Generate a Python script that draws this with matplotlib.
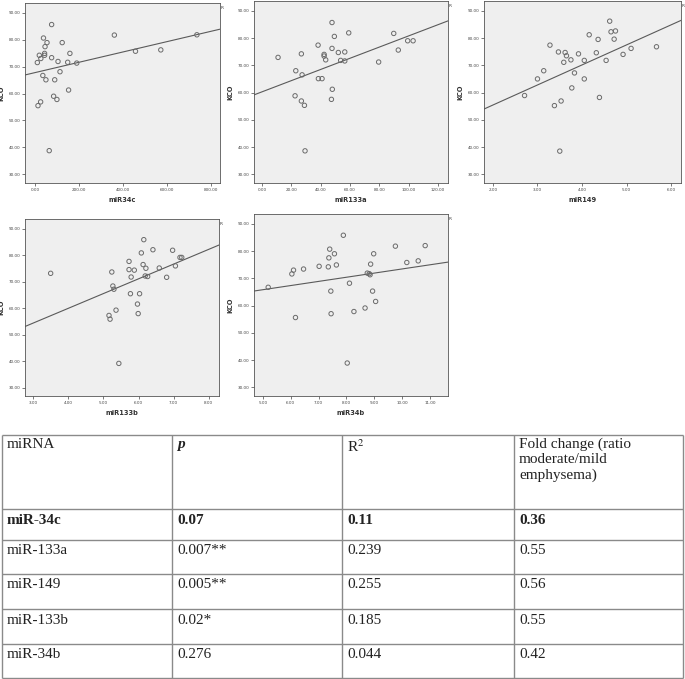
import numpy as np
import matplotlib
matplotlib.use("Agg")
import matplotlib.pyplot as plt
from matplotlib.ticker import FormatStrFormatter

# ---- scatter data (KCO vs miRNA expression) ----
kco_34c = [85.6, 80.6, 78.9, 77.4, 74.2, 74.9, 74.2, 73.0, 71.5, 73.3, 71.9, 78.9, 74.9, 71.6, 71.3,
           68.1, 66.7, 65.1, 65.1, 61.3, 59.0, 57.8, 56.9, 55.5, 38.8, 81.7, 75.7, 76.2, 81.8]
mir34c = [76, 39, 55, 46, 20, 44, 44, 27, 11, 76, 105, 124, 159, 149, 190,
          114, 36, 50, 90, 153, 85, 100, 26, 14, 65, 361, 457, 572, 736]

mir133a = [10.9, 23.0, 26.8, 27.3, 22.5, 26.8, 28.9, 29.3, 38.2, 42.3, 42.3, 43.4, 38.4, 40.9, 47.7,
           49.3, 47.7, 52.0, 56.4, 53.6, 56.4, 59.1, 47.9, 47.3, 79.5, 89.8, 92.9, 99.3, 103.0]
kco_133a = [72.9, 68.0, 74.2, 66.5, 58.8, 56.9, 55.3, 38.6, 77.4, 74.0, 73.4, 72.0, 65.1, 65.1, 85.7,
            80.6, 76.2, 74.7, 74.9, 71.8, 71.6, 81.9, 61.2, 57.5, 71.2, 81.7, 75.6, 79.0, 79.0]

mir149 = [2.71, 3.00, 3.14, 3.28, 3.38, 3.47, 3.53, 3.50, 3.59, 3.62, 3.65, 3.75, 3.83, 3.77, 3.92,
          4.05, 4.05, 4.16, 4.32, 4.36, 4.39, 4.54, 4.62, 4.65, 4.75, 4.72, 4.92, 5.10, 5.67]
kco_149 = [58.9, 65.0, 68.0, 77.4, 55.2, 74.9, 56.9, 38.5, 71.1, 74.7, 73.5, 72.0, 67.2, 61.7, 74.2,
           71.8, 65.0, 81.2, 74.6, 79.5, 58.2, 71.8, 86.2, 82.3, 82.6, 79.6, 74.0, 76.2, 76.8]

mir133b = [3.50, 5.24, 5.27, 5.30, 5.16, 5.19, 5.36, 5.44, 5.73, 5.73, 5.88, 5.79, 5.77, 6.03, 5.97,
           5.99, 6.08, 6.15, 6.13, 6.21, 6.19, 6.26, 6.41, 6.59, 6.80, 6.97, 7.05, 7.18, 7.23]
kco_133b = [73.1, 73.6, 68.3, 67.1, 57.2, 55.8, 59.2, 39.1, 77.6, 74.5, 74.3, 71.7, 65.4, 65.4, 61.5,
            57.9, 80.8, 85.8, 76.4, 75.0, 72.1, 71.9, 82.0, 75.1, 71.6, 81.8, 75.9, 79.1, 79.1]

mir34b = [5.19, 6.04, 6.10, 6.17, 6.46, 7.02, 7.35, 7.37, 7.40, 7.57, 7.64, 7.44, 7.45, 7.89, 8.03,
          8.11, 8.27, 8.67, 8.75, 8.82, 8.85, 8.87, 8.94, 8.98, 9.05, 9.76, 10.17, 10.58, 10.83]
kco_34b = [66.7, 71.6, 73.0, 55.6, 73.4, 74.4, 74.2, 77.5, 80.7, 79.0, 74.9, 65.3, 57.0, 85.8, 38.9,
           68.2, 57.8, 59.1, 71.9, 71.7, 71.3, 75.2, 65.3, 79.0, 61.5, 81.8, 75.8, 76.4, 82.0]

# fit lines (intercept, slope)
fit_34c = (67.76, 0.01917)
fit_133a = (60.27, 0.2053)
fit_149 = (40.7, 7.36)
fit_133b = (37.6, 5.57)
fit_34b = (58.2, 1.523)

# ---- table data ----
col_headers = ["miRNA", "p", "R$^2$", "Fold change (ratio\nmoderate/mild\nemphysema)"]
mirna_names = ["miR-34c", "miR-133a", "miR-149", "miR-133b", "miR-34b"]
p_values = ["0.07", "0.007**", "0.005**", "0.02*", "0.276"]
r2_values = ["0.11", "0.239", "0.255", "0.185", "0.044"]
fold_changes = ["0.36", "0.55", "0.56", "0.55", "0.42"]

W, H = 685, 679
fig = plt.figure(figsize=(W / 100, H / 100), dpi=100)
plt.rcParams['mathtext.fontset'] = 'stix'


def px_axes(x0, y0, x1, y1):
    return fig.add_axes([x0 / W, 1 - y1 / H, (x1 - x0) / W, (y1 - y0) / H])


def scatter_panel(rect, x, y, fit, xlim, xticks, xlabel):
    ax = px_axes(*rect)
    ax.set_facecolor('#efefef')
    ax.scatter(x, y, s=10, facecolors='none', edgecolors='#6a6a6a', linewidths=0.7, zorder=3)
    xs = np.array(xlim)
    ax.plot(xs, fit[0] + fit[1] * xs, color='#5a5a5a', lw=0.8, zorder=2)
    ax.set_xlim(xlim)
    ax.set_ylim(26.8, 93.6)
    ax.set_xticks(xticks)
    ax.set_yticks(range(30, 91, 10))
    ax.xaxis.set_major_formatter(FormatStrFormatter('%.2f'))
    ax.yaxis.set_major_formatter(FormatStrFormatter('%.2f'))
    ax.tick_params(labelsize=3.0, length=2, width=0.5, pad=1.5, colors='#444444')
    for s in ax.spines.values():
        s.set_color('#555555')
        s.set_linewidth(0.6)
    ax.set_xlabel(xlabel, fontsize=4.8, fontweight='bold', labelpad=4, color='#333333')
    ax.set_ylabel('KCO', fontsize=4.8, fontweight='bold', color='#333333')
    # keep the y label a fixed 20 px left of the axes
    width_px = rect[2] - rect[0]
    ax.yaxis.set_label_coords(-20.5 / width_px, 0.5)
    # clipped legend remnant at the top-right corner
    ax.text(1.005, 0.985, 'R', transform=ax.transAxes, fontsize=3.2,
            color='#444444', ha='left', va='top', clip_on=False)
    return ax


scatter_panel((25, 3, 220, 183), mir34c, kco_34c, fit_34c, (-45, 841),
              [0, 200, 400, 600, 800], 'miR34c')
scatter_panel((254, 1, 448, 183), mir133a, kco_133a, fit_133a, (-5.5, 126.8),
              [0, 20, 40, 60, 80, 100, 120], 'miR133a')
scatter_panel((484, 1, 681, 183), mir149, kco_149, fit_149, (1.8, 6.22),
              [2, 3, 4, 5, 6], 'miR149')
scatter_panel((25, 219, 219, 396), mir133b, kco_133b, fit_133b, (2.77, 8.29),
              [3, 4, 5, 6, 7, 8], 'miR133b')
scatter_panel((254, 214, 448, 396), mir34b, kco_34b, fit_34b, (4.68, 11.65),
              [5, 6, 7, 8, 9, 10, 11], 'miR34b')

# ---- table drawn in pixel coordinates ----
tab = fig.add_axes([0, 0, 1, 1], zorder=-1)
tab.set_xlim(0, W)
tab.set_ylim(H, 0)
tab.axis('off')

col_x = [2, 172, 342, 514, 683]
row_y = [435, 509, 540, 574, 609, 644, 678]
tab.hlines(row_y, col_x[0], col_x[-1], color='#8a8a8a', lw=1)
tab.vlines(col_x, row_y[0], row_y[-1], color='#8a8a8a', lw=1)

serif = 'Liberation Serif'
fs = 11
for j, head in enumerate(col_headers):
    kw = dict(fontsize=fs, family=serif, va='top', ha='left', color='#222222', linespacing=1.2)
    if j == 1:
        kw.update(fontweight='bold', fontstyle='italic')
    tab.text(col_x[j] + 5, row_y[0] + 3, head, **kw)

for i in range(len(mirna_names)):
    cells = [mirna_names[i], p_values[i], r2_values[i], fold_changes[i]]
    for j, val in enumerate(cells):
        tab.text(col_x[j] + 5, row_y[i + 1] + 4.5, val, fontsize=fs, family=serif,
                 va='top', ha='left', color='#222222',
                 fontweight='bold' if i == 0 else 'normal')

fig.savefig('out.png', dpi=100)
